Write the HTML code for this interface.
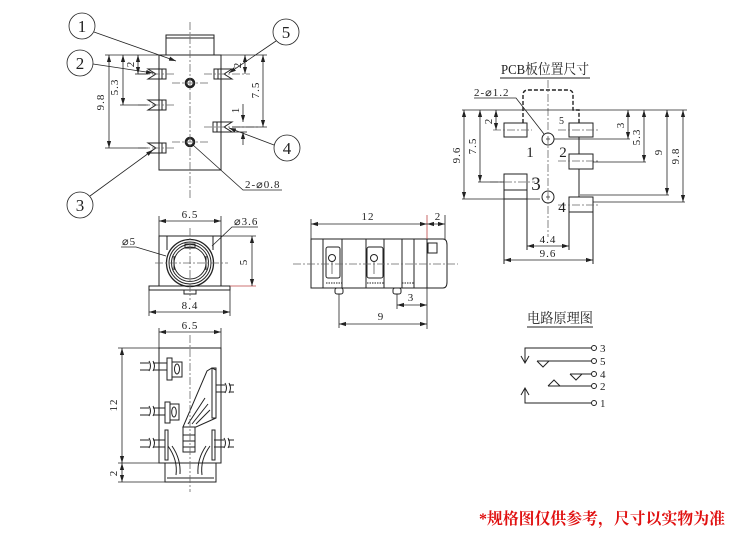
<!DOCTYPE html>
<html><head><meta charset="utf-8">
<style>
html,body{margin:0;padding:0;background:#fff;}
svg{display:block;}
text{font-family:"Liberation Serif","Noto Serif CJK SC",serif;fill:#222;}
.d{font-size:11px;letter-spacing:1px;}
</style></head><body>
<svg width="750" height="554" viewBox="0 0 750 554" xmlns="http://www.w3.org/2000/svg">
<defs>
<marker id="a" markerWidth="8" markerHeight="6" refX="7" refY="3" orient="auto-start-reverse" markerUnits="userSpaceOnUse"><path d="M0,0.9 L7,3 L0,5.1 z" fill="#222"/></marker>
</defs>
<rect width="750" height="554" fill="#fff"/>

<!-- ================= TOP VIEW ================= -->
<g stroke="#222" stroke-width="1" fill="none">
  <rect x="166" y="35" width="48" height="20"/>
  <line x1="166" y1="38" x2="214" y2="38"/>
  <rect x="159" y="55" width="62" height="115"/>
  <!-- left pins -->
  <path d="M148,69 H166 V79 H148 L156,74 Z"/><line x1="162" y1="69" x2="162" y2="79"/>
  <path d="M148,100 H166 V110 H148 L156,105 Z"/><line x1="162" y1="100" x2="162" y2="110"/>
  <path d="M148,143 H166 V153 H148 L156,148 Z"/><line x1="162" y1="143" x2="162" y2="153"/>
  <!-- right pins -->
  <path d="M232,69 H214 V79 H232 L224,74 Z"/><line x1="218" y1="69" x2="218" y2="79"/>
  <path d="M232,122 H213 V132 H232 L224,127 Z"/><line x1="217" y1="122" x2="217" y2="132"/>
  <!-- holes -->
  <circle cx="190" cy="83" r="4" stroke-width="2.6"/>
  <circle cx="190" cy="142" r="4" stroke-width="2.6"/>
</g>
<g stroke="#666" stroke-width="0.8" fill="none" stroke-dasharray="8,2,2,2">
  <line x1="190" y1="22" x2="190" y2="200"/>
  <line x1="172" y1="83" x2="208" y2="83"/>
  <line x1="172" y1="142" x2="208" y2="142"/>
  <line x1="138" y1="74" x2="176" y2="74"/>
  <line x1="138" y1="105" x2="176" y2="105"/>
  <line x1="138" y1="148" x2="176" y2="148"/>
  <line x1="204" y1="74" x2="250" y2="74"/>
  <line x1="204" y1="127" x2="258" y2="127"/>
</g>
<g stroke="#222" stroke-width="0.8" fill="none">
  <!-- left dims -->
  <line x1="105" y1="55" x2="159" y2="55"/>
  <line x1="105" y1="148" x2="148" y2="148"/>
  <line x1="120" y1="105" x2="148" y2="105"/>
  <line x1="135" y1="74" x2="148" y2="74"/>
  <line x1="109" y1="55" x2="109" y2="148" marker-start="url(#a)" marker-end="url(#a)"/>
  <line x1="123" y1="55" x2="123" y2="105" marker-start="url(#a)" marker-end="url(#a)"/>
  <line x1="138" y1="55" x2="138" y2="74" marker-start="url(#a)" marker-end="url(#a)"/>
  <!-- right dims -->
  <line x1="221" y1="55" x2="267" y2="55"/>
  <line x1="232" y1="127" x2="267" y2="127"/>
  <line x1="263" y1="55" x2="263" y2="127" marker-start="url(#a)" marker-end="url(#a)"/>
  <line x1="245" y1="55" x2="245" y2="74" marker-start="url(#a)" marker-end="url(#a)"/>
  <line x1="243" y1="104" x2="243" y2="122" marker-end="url(#a)"/>
  <line x1="243" y1="145" x2="243" y2="132" marker-end="url(#a)"/>
  <line x1="232" y1="132" x2="247" y2="132"/>
  <!-- leaders -->
  <line x1="94" y1="32" x2="176" y2="61" marker-end="url(#a)"/>
  <line x1="93" y1="64" x2="153" y2="73" marker-end="url(#a)"/>
  <line x1="90" y1="196" x2="153" y2="150" marker-end="url(#a)"/>
  <line x1="276" y1="41" x2="229" y2="73" marker-end="url(#a)"/>
  <line x1="274" y1="145" x2="229" y2="128" marker-end="url(#a)"/>
  <polyline points="193,145 243,190 282,190"/>
  <!-- circle labels -->
  <circle cx="82" cy="26" r="13"/>
  <circle cx="80" cy="63" r="13"/>
  <circle cx="80" cy="205" r="13"/>
  <circle cx="286" cy="32" r="13"/>
  <circle cx="287" cy="148" r="13"/>
</g>
<g font-size="17" text-anchor="middle">
  <text x="82" y="32">1</text>
  <text x="80" y="69">2</text>
  <text x="80" y="211">3</text>
  <text x="286" y="38">5</text>
  <text x="287" y="154">4</text>
</g>
<g class="d" text-anchor="middle">
  <text transform="rotate(-90 104 102)" x="104" y="102">9.8</text>
  <text transform="rotate(-90 118 87)" x="118" y="87">5.3</text>
  <text transform="rotate(-90 134 64)" x="134" y="64">2</text>
  <text transform="rotate(-90 259 90)" x="259" y="90">7.5</text>
  <text transform="rotate(-90 241 65)" x="241" y="65">2</text>
  <text transform="rotate(-90 239 110)" x="239" y="110">1</text>
  <text x="245" y="188" text-anchor="start">2-⌀0.8</text>
</g>

<!-- ================= FRONT VIEW ================= -->
<g stroke="#222" stroke-width="1" fill="none">
  <rect x="159" y="236" width="62" height="50"/>
  <line x1="167" y1="236" x2="167" y2="250"/>
  <line x1="213" y1="236" x2="213" y2="250"/>
  <rect x="149" y="286" width="81" height="4"/>
  <rect x="184" y="290" width="12" height="4"/>
  <circle cx="190" cy="263" r="23.5" stroke-width="1.3"/>
  <circle cx="190" cy="263" r="21"/>
  <circle cx="190" cy="263" r="18.5"/>
  <circle cx="190" cy="263" r="16"/>
  <rect x="185" y="244" width="10" height="4"/>
  <path d="M174,256 V270 M206,256 V270"/>
</g>
<g stroke="#666" stroke-width="0.8" fill="none" stroke-dasharray="8,2,2,2">
  <line x1="155" y1="263" x2="228" y2="263"/>
  <line x1="190" y1="228" x2="190" y2="300"/>
</g>
<g stroke="#222" stroke-width="0.8" fill="none">
  <line x1="159" y1="216" x2="159" y2="236"/>
  <line x1="221" y1="216" x2="221" y2="236"/>
  <line x1="159" y1="221" x2="221" y2="221" marker-start="url(#a)" marker-end="url(#a)"/>
  <line x1="221" y1="236" x2="256" y2="236"/>
  <line x1="230" y1="286" x2="256" y2="286" stroke="#b44"/>
  <line x1="252" y1="236" x2="252" y2="286" marker-start="url(#a)" marker-end="url(#a)"/>
  <line x1="149" y1="290" x2="149" y2="316"/>
  <line x1="230" y1="290" x2="230" y2="316"/>
  <line x1="149" y1="312" x2="230" y2="312" marker-start="url(#a)" marker-end="url(#a)"/>
  <polyline points="121,247 136,247 166,256"/>
  <polyline points="258,227 232,227 212,246"/>
</g>
<g class="d" text-anchor="middle">
  <text x="190" y="218">6.5</text>
  <text x="190" y="309">8.4</text>
  <text transform="rotate(-90 247 262)" x="247" y="262">5</text>
  <text x="122" y="245" text-anchor="start">⌀5</text>
  <text x="234" y="225" text-anchor="start">⌀3.6</text>
</g>

<!-- ================= SIDE VIEW ================= -->
<g stroke="#222" stroke-width="1" fill="none">
  <rect x="311" y="239" width="116" height="49"/>
  <path d="M427,239 H443 Q447,239 447,245 V282 Q447,288 443,288 H427"/>
  <rect x="428" y="243" width="9" height="10"/>
  <line x1="323" y1="239" x2="323" y2="288"/>
  <line x1="342" y1="239" x2="342" y2="288"/>
  <line x1="366" y1="239" x2="366" y2="288"/>
  <line x1="384" y1="239" x2="384" y2="288"/>
  <line x1="402" y1="239" x2="402" y2="288"/>
  <line x1="414" y1="239" x2="414" y2="288"/>
  <rect x="326" y="247" width="14" height="31" rx="2"/>
  <rect x="367" y="247" width="16" height="31" rx="2"/>
  <circle cx="332" cy="258" r="3.5"/>
  <circle cx="374" cy="258" r="3.5"/>
  <path d="M326,283 H342 M367,283 H384 M402,283 H414" stroke-dasharray="1.5,1"/>
  <rect x="335" y="288" width="8" height="6" rx="2"/>
  <rect x="393" y="288" width="8" height="6" rx="2"/>
  <line x1="332" y1="261" x2="332" y2="274" stroke-width="0.6"/>
  <line x1="374" y1="261" x2="374" y2="274" stroke-width="0.6"/>
</g>
<g stroke="#666" stroke-width="0.8" fill="none" stroke-dasharray="8,2,2,2">
  <line x1="293" y1="264" x2="458" y2="264"/>
</g>
<g stroke="#222" stroke-width="0.8" fill="none">
  <line x1="311" y1="219" x2="311" y2="239"/>
  <line x1="427" y1="215" x2="427" y2="239" stroke="#b44"/>
  <line x1="445" y1="215" x2="445" y2="239"/>
  <line x1="311" y1="224" x2="427" y2="224" marker-start="url(#a)" marker-end="url(#a)"/>
  <line x1="427" y1="224" x2="445" y2="224" marker-start="url(#a)" marker-end="url(#a)"/>
  <line x1="397" y1="294" x2="397" y2="309"/>
  <line x1="427" y1="288" x2="427" y2="329"/>
  <line x1="339" y1="294" x2="339" y2="328"/>
  <line x1="397" y1="305" x2="427" y2="305" marker-start="url(#a)" marker-end="url(#a)"/>
  <line x1="339" y1="324" x2="427" y2="324" marker-start="url(#a)" marker-end="url(#a)"/>
</g>
<g class="d" text-anchor="middle">
  <text x="368" y="220">12</text>
  <text x="438" y="220">2</text>
  <text x="411" y="301">3</text>
  <text x="381" y="320">9</text>
</g>

<!-- ================= BOTTOM VIEW ================= -->
<g stroke="#222" stroke-width="1" fill="none">
  <rect x="159" y="348" width="62" height="115"/>
  <path d="M165,463 V482 H216 V463"/>
  <line x1="167" y1="478" x2="214" y2="478"/>
  <!-- pin 1 -->
  <path d="M140,363 H149 M153,363 H167 M140,370 H149 M153,370 H167 M149,361 Q152,366 149,371 M153,361 Q156,366 153,371"/>
  <rect x="167" y="358" width="5" height="22"/>
  <rect x="172" y="362" width="10" height="15"/>
  <ellipse cx="177" cy="369" rx="2.5" ry="5"/>
  <!-- pin 2 -->
  <path d="M140,408 H149 M153,408 H165 M140,415 H149 M153,415 H165 M149,406 Q152,411 149,416 M153,406 Q156,411 153,416"/>
  <rect x="165" y="402" width="5" height="21"/>
  <rect x="170" y="404" width="9" height="16"/>
  <ellipse cx="174" cy="412" rx="2.3" ry="5"/>
  <!-- pin 3 -->
  <path d="M140,440 H149 M153,440 H165 M140,447 H149 M153,447 H165 M149,438 Q152,443 149,448 M153,438 Q156,443 153,448"/>
  <rect x="165" y="430" width="3" height="30"/>
  <!-- right pins -->
  <path d="M216,385 H225 M229,385 H234 M216,392 H225 M229,392 H234 M225,383 Q228,388 225,393 M229,383 Q232,388 229,393"/>
  <path d="M214,440 H224 M228,440 H234 M214,447 H224 M228,447 H234 M224,438 Q227,443 224,448 M228,438 Q231,443 228,448"/>
  <rect x="212" y="430" width="3" height="30"/>
  <!-- slanted spring -->
  <path d="M183,427 L207,371 L212,368 L216,370 V418 L196,427 Z"/>
  <rect x="212" y="368" width="4" height="50"/>
  <path d="M188,424 L205,398 M192,424 L208,404 M196,424 L210,410"/>
  <rect x="183" y="427" width="12" height="25"/>
  <path d="M183,435 H195 M183,441 H195 M183,447 H195"/>
  <!-- lower springs -->
  <path d="M168,446 Q178,460 176,475 M172,446 Q181,459 180,474"/>
  <path d="M210,446 Q200,460 202,475 M206,446 Q197,459 198,474"/>
</g>
<g stroke="#666" stroke-width="0.8" fill="none" stroke-dasharray="8,2,2,2">
  <line x1="190" y1="335" x2="190" y2="492"/>
</g>
<g stroke="#222" stroke-width="0.8" fill="none">
  <line x1="159" y1="328" x2="159" y2="348"/>
  <line x1="221" y1="328" x2="221" y2="348"/>
  <line x1="159" y1="332" x2="221" y2="332" marker-start="url(#a)" marker-end="url(#a)"/>
  <line x1="118" y1="348" x2="159" y2="348"/>
  <line x1="118" y1="463" x2="165" y2="463"/>
  <line x1="118" y1="482" x2="165" y2="482"/>
  <line x1="122" y1="348" x2="122" y2="463" marker-start="url(#a)" marker-end="url(#a)"/>
  <line x1="122" y1="463" x2="122" y2="482" marker-start="url(#a)" marker-end="url(#a)"/>
</g>
<g class="d" text-anchor="middle">
  <text x="190" y="329">6.5</text>
  <text transform="rotate(-90 117 405)" x="117" y="405">12</text>
  <text transform="rotate(-90 117 473)" x="117" y="473">2</text>
</g>

<!-- ================= PCB LAYOUT ================= -->
<text x="545" y="74" font-size="14" text-anchor="middle" textLength="88" lengthAdjust="spacingAndGlyphs">PCB板位置尺寸</text>
<g stroke="#222" stroke-width="1" fill="none">
  <line x1="500" y1="78" x2="590" y2="78"/>
  <path d="M523,123 V95 Q523,90 528,90 H568 Q573,90 573,95 V110 H579 V123" stroke-dasharray="4,2" stroke-width="1.4"/>
  <line x1="579" y1="137" x2="579" y2="154"/>
  <line x1="579" y1="169" x2="579" y2="197"/>
  <rect x="504" y="123" width="23" height="14"/>
  <rect x="569" y="123" width="24" height="14"/>
  <rect x="569" y="154" width="24" height="15"/>
  <rect x="504" y="174" width="23" height="16"/>
  <line x1="504" y1="190" x2="504" y2="264"/>
  <line x1="527" y1="190" x2="527" y2="250"/>
  <line x1="504" y1="199" x2="527" y2="199"/>
  <rect x="569" y="197" width="24" height="15"/>
  <line x1="569" y1="212" x2="569" y2="250"/>
  <line x1="593" y1="212" x2="593" y2="264"/>
  <circle cx="548" cy="139" r="6"/>
  <circle cx="548" cy="197" r="6"/>
  <path d="M546,139 H550 M548,137 V141 M546,197 H550 M548,195 V199" stroke-width="0.7"/>
</g>
<g stroke="#666" stroke-width="0.8" fill="none" stroke-dasharray="8,2,2,2">
  <line x1="548" y1="80" x2="548" y2="237"/>
  <line x1="493" y1="130" x2="532" y2="130"/>
  <line x1="558" y1="130" x2="598" y2="130"/>
  <line x1="558" y1="161" x2="600" y2="161"/>
  <line x1="490" y1="182" x2="535" y2="182"/>
  <line x1="558" y1="205" x2="600" y2="205"/>
</g>
<g stroke="#222" stroke-width="0.8" fill="none">
  <line x1="462" y1="110" x2="687" y2="110"/>
  <line x1="464" y1="110" x2="464" y2="199" marker-start="url(#a)" marker-end="url(#a)"/>
  <line x1="462" y1="199" x2="540" y2="199"/>
  <line x1="480" y1="110" x2="480" y2="182" marker-start="url(#a)" marker-end="url(#a)"/>
  <line x1="478" y1="182" x2="504" y2="182"/>
  <line x1="496" y1="110" x2="496" y2="130" marker-start="url(#a)" marker-end="url(#a)"/>
  <line x1="628" y1="110" x2="628" y2="139" marker-start="url(#a)" marker-end="url(#a)"/>
  <line x1="554" y1="139" x2="630" y2="139"/>
  <line x1="644" y1="110" x2="644" y2="162" marker-start="url(#a)" marker-end="url(#a)"/>
  <line x1="593" y1="162" x2="646" y2="162"/>
  <line x1="667" y1="110" x2="667" y2="195" marker-start="url(#a)" marker-end="url(#a)"/>
  <line x1="580" y1="195" x2="669" y2="195"/>
  <line x1="683" y1="110" x2="683" y2="202" marker-start="url(#a)" marker-end="url(#a)"/>
  <line x1="593" y1="202" x2="685" y2="202"/>
  <line x1="527" y1="246" x2="569" y2="246" marker-start="url(#a)" marker-end="url(#a)"/>
  <line x1="504" y1="260" x2="593" y2="260" marker-start="url(#a)" marker-end="url(#a)"/>
  <polyline points="474,98 516,98 544,134"/>
</g>
<g class="d" text-anchor="middle">
  <text x="474" y="96" text-anchor="start">2-⌀1.2</text>
  <text transform="rotate(-90 460 155)" x="460" y="155">9.6</text>
  <text transform="rotate(-90 476 146)" x="476" y="146">7.5</text>
  <text transform="rotate(-90 492 121)" x="492" y="121">2</text>
  <text x="562" y="124" font-size="10">5</text>
  <text transform="rotate(-90 624 125)" x="624" y="125">3</text>
  <text transform="rotate(-90 640 137)" x="640" y="137">5.3</text>
  <text transform="rotate(-90 662 152)" x="662" y="152">9</text>
  <text transform="rotate(-90 679 156)" x="679" y="156">9.8</text>
  <text x="548" y="243">4.4</text>
  <text x="548" y="257">9.6</text>
</g>
<g font-size="15" text-anchor="middle">
  <text x="530" y="157">1</text>
  <text x="563" y="157">2</text>
  <text x="536" y="190" font-size="19">3</text>
  <text x="562" y="212">4</text>
</g>

<!-- ================= CIRCUIT ================= -->
<text x="560" y="323" font-size="14" text-anchor="middle" textLength="66" lengthAdjust="spacingAndGlyphs">电路原理图</text>
<g stroke="#222" stroke-width="1" fill="none">
  <line x1="527" y1="327" x2="593" y2="327"/>
  <path d="M525,362 V348 H591.5"/>
  <path d="M521,356 L525,363 L529,356"/>
  <path d="M537,361 H591.5"/>
  <path d="M537,361 L543,367 L549,361"/>
  <path d="M570,374 H591.5"/>
  <path d="M570,374 L576,380 L582,374"/>
  <path d="M548,386 H591.5"/>
  <path d="M548,386 L554,380 L560,386"/>
  <path d="M525,389 V403 H591.5"/>
  <path d="M521,395 L525,388 L529,395"/>
  <circle cx="594" cy="348" r="2.5"/>
  <circle cx="594" cy="361" r="2.5"/>
  <circle cx="594" cy="374" r="2.5"/>
  <circle cx="594" cy="386" r="2.5"/>
  <circle cx="594" cy="403" r="2.5"/>
</g>
<g font-size="11">
  <text x="600" y="352">3</text>
  <text x="600" y="365">5</text>
  <text x="600" y="378">4</text>
  <text x="600" y="390">2</text>
  <text x="600" y="407">1</text>
</g>

<!-- ================= NOTE ================= -->
<text x="479" y="524" font-size="16" font-weight="bold" style="fill:#e01010;font-family:'Liberation Serif','Noto Serif CJK SC','Noto Sans CJK SC',serif" textLength="246" lengthAdjust="spacingAndGlyphs">*规格图仅供参考，尺寸以实物为准</text>
</svg>
</body></html>
